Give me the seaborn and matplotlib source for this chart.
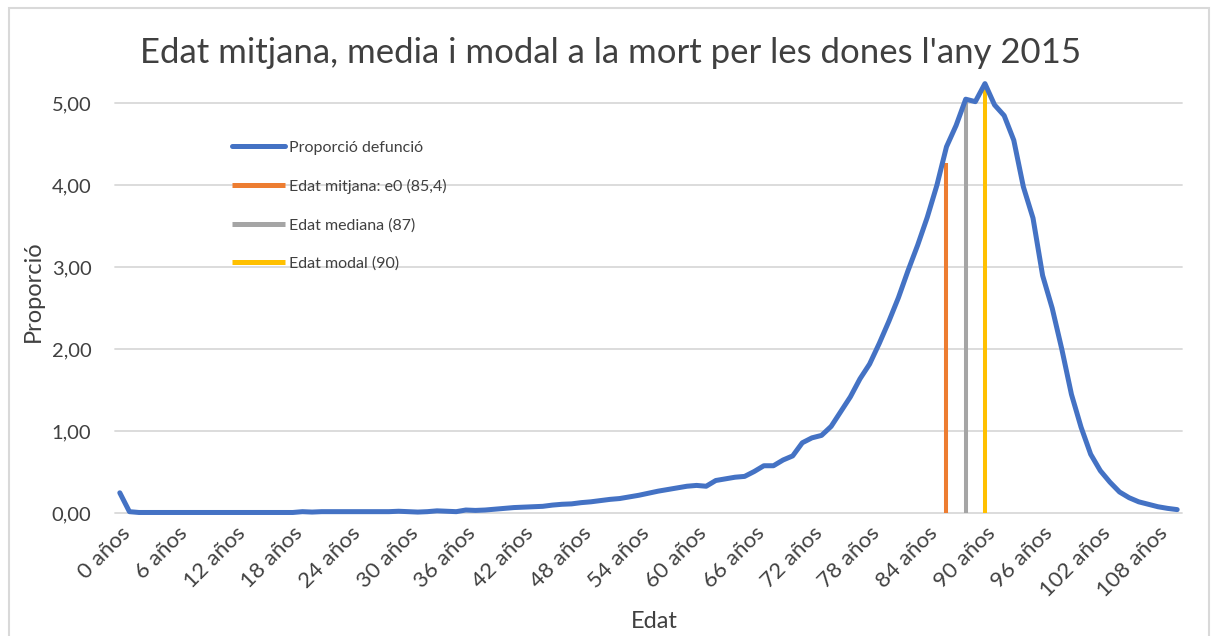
import numpy as np
import pandas as pd
import seaborn as sns
import matplotlib.pyplot as plt
from matplotlib.patches import Rectangle

# proporció de defuncions per edat (dones, 2015), llegit del gràfic
ages = list(range(0, 111))
proporcio = [
    0.25, 0.02, 0.01, 0.01, 0.01, 0.01, 0.01, 0.01, 0.01, 0.01,   # 0-9
    0.01, 0.01, 0.01, 0.01, 0.01, 0.01, 0.01, 0.01, 0.01, 0.02,   # 10-19
    0.015, 0.02, 0.02, 0.02, 0.02, 0.02, 0.02, 0.02, 0.02, 0.025, # 20-29
    0.02, 0.015, 0.02, 0.03, 0.025, 0.02, 0.04, 0.035, 0.04, 0.05, # 30-39
    0.06, 0.07, 0.075, 0.08, 0.085, 0.10, 0.11, 0.115, 0.13, 0.14, # 40-49
    0.155, 0.17, 0.18, 0.20, 0.22, 0.245, 0.27, 0.29, 0.31, 0.33,  # 50-59
    0.34, 0.33, 0.40, 0.42, 0.44, 0.45, 0.51, 0.58, 0.58, 0.65,    # 60-69
    0.70, 0.86, 0.92, 0.95, 1.06, 1.24, 1.42, 1.64, 1.82, 2.07,    # 70-79
    2.34, 2.63, 2.96, 3.27, 3.61, 4.00, 4.47, 4.73, 5.05, 5.02,    # 80-89
    5.24, 4.98, 4.85, 4.55, 3.98, 3.60, 2.90, 2.50, 2.00, 1.45,    # 90-99
    1.05, 0.72, 0.52, 0.38, 0.26, 0.19, 0.14, 0.11, 0.08, 0.06,    # 100-109
    0.045,                                                         # 110
]

# línies verticals: posició (índex d'edat) i alçada llegides del gràfic
ref_labels = ["Edat mitjana: e0 (85,4)", "Edat mediana (87)", "Edat modal (90)"]
ref_pos = [85.9, 88.0, 90.0]
ref_height = [4.27, 5.05, 5.17]
ref_colors = ["#ED7D31", "#A5A5A5", "#FFC000"]

tick_ages = list(range(0, 111, 6))
tick_labels = [f"{a} años" for a in tick_ages]
y_ticks = [0, 1, 2, 3, 4, 5]

df = pd.DataFrame({"edat": ages, "proporcio": proporcio})

sns.set_theme(style="white")
plt.rcParams["font.family"] = ["Lato", "DejaVu Sans"]
text_col = "#404040"

fig = plt.figure(figsize=(12.14, 6.36), dpi=100)
ax = fig.add_axes([115 / 1214, 1 - 513.3 / 636, (1182 - 115) / 1214, (513.3 - 78.7) / 636])

# gridlines first
for y in y_ticks:
    ax.axhline(y, color="#D9D9D9", lw=1.3, zorder=0, clip_on=False)

sns.lineplot(data=df, x="edat", y="proporcio", ax=ax, color="#4472C4", lw=3.6,
             label="Proporció defunció", solid_capstyle="round", clip_on=False, zorder=3)

for lab, p, h, c in zip(ref_labels, ref_pos, ref_height, ref_colors):
    ax.vlines(p, 0, h, color=c, lw=2.9, label=lab, zorder=2)

ax.set_xlim(-0.5, 110.5)
ax.set_ylim(0, 5.3)
ax.set_yticks(y_ticks)
ax.set_yticklabels([f"{v:.2f}".replace(".", ",") for v in y_ticks], fontsize=14.5, color=text_col)
ax.set_xticks(tick_ages)
ax.set_xticklabels(tick_labels, rotation=45, ha="right", rotation_mode="anchor",
                   fontsize=16, color=text_col)
ax.tick_params(axis="x", length=0, pad=7)
ax.tick_params(axis="y", length=0, pad=17)
for s in ax.spines.values():
    s.set_visible(False)

ax.set_xlabel("Edat", fontsize=17, color=text_col)
ax.set_ylabel("Proporció", fontsize=17, color=text_col)
ax.yaxis.set_label_coords(-0.067, 0.51)
ax.xaxis.set_label_coords(0.505, -0.225)

fig.text(0.503, 1 - 53 / 636, "Edat mitjana, media i modal a la mort per les dones l'any 2015",
         ha="center", va="center", fontsize=25, color=text_col)

leg = ax.legend(loc="upper left", bbox_to_anchor=(0.096, 0.89), frameon=False,
                fontsize=11.5, handlelength=3.3, handletextpad=0.3, labelspacing=1.5)
for t in leg.get_texts():
    t.set_color(text_col)
for h in leg.get_lines():
    h.set_linewidth(3.6)
    h.set_solid_capstyle("round")

# marc del gràfic
fig.patches.append(Rectangle((9 / 1214, -0.01), 1200 / 1214, 1 - 7.5 / 636 + 0.01,
                             transform=fig.transFigure, fill=False,
                             edgecolor="#D9D9D9", lw=1.5))

fig.savefig("out.png", dpi=100)
